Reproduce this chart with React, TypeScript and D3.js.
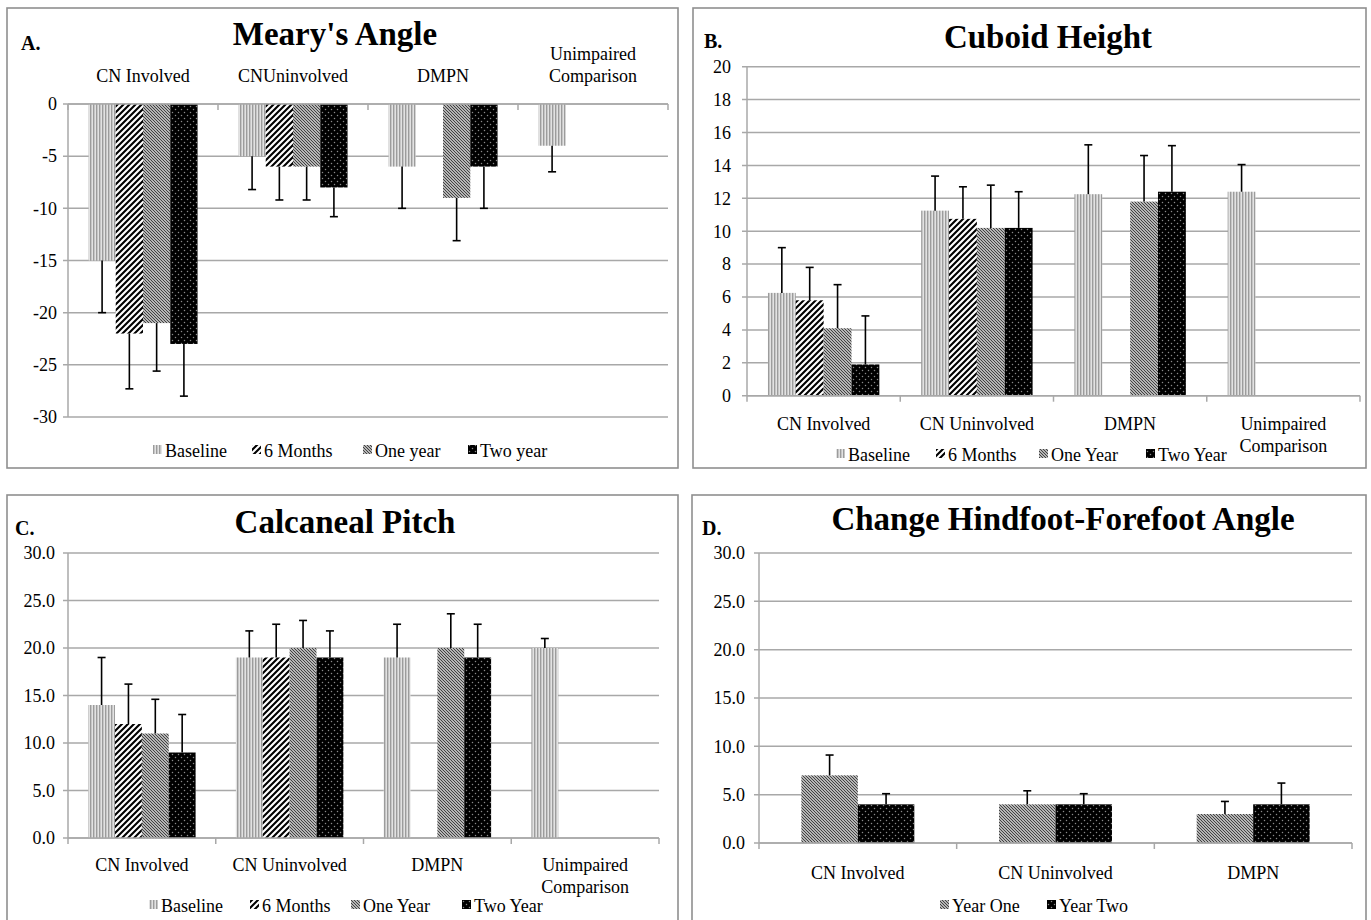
import React, { useEffect } from "react";
import * as d3 from "d3";

const FONT = '"Liberation Serif","Times New Roman",Times,serif';

// ---------- DATA ----------
const catsABC = ["CN Involved", "CN Uninvolved", "DMPN", "Unimpaired\nComparison"];
const catsA = ["CN Involved", "CNUninvolved", "DMPN", "Unimpaired\nComparison"];
const catsD = ["CN Involved", "CN Uninvolved", "DMPN"];

const seriesNamesA = ["Baseline", "6 Months", "One year", "Two year"];
const seriesNamesBC = ["Baseline", "6 Months", "One Year", "Two Year"];
const seriesNamesD = ["Year One", "Year Two"];

// A. Meary's Angle (mean, SD)
const meary_baseline = [-15, -5, -6, -4];
const meary_baseline_sd = [5, 3.2, 4, 2.5];
const meary_6m = [-22, -6, null, null];
const meary_6m_sd = [5.3, 3.2, null, null];
const meary_1y = [-21, -6, -9, null];
const meary_1y_sd = [4.6, 3.2, 4.1, null];
const meary_2y = [-23, -8, -6, null];
const meary_2y_sd = [5, 2.8, 4, null];
const mearyTicks = [0, -5, -10, -15, -20, -25, -30];

// B. Cuboid Height
const cuboid_baseline = [6.25, 11.25, 12.25, 12.4];
const cuboid_baseline_sd = [2.75, 2.1, 3.0, 1.65];
const cuboid_6m = [5.8, 10.75, null, null];
const cuboid_6m_sd = [2.0, 1.95, null, null];
const cuboid_1y = [4.1, 10.2, 11.8, null];
const cuboid_1y_sd = [2.65, 2.6, 2.8, null];
const cuboid_2y = [1.9, 10.2, 12.4, null];
const cuboid_2y_sd = [2.95, 2.2, 2.8, null];
const cuboidTicks = [0, 2, 4, 6, 8, 10, 12, 14, 16, 18, 20];

// C. Calcaneal Pitch
const pitch_baseline = [14, 19, 19, 20];
const pitch_baseline_sd = [5, 2.8, 3.5, 1];
const pitch_6m = [12, 19, null, null];
const pitch_6m_sd = [4.2, 3.5, null, null];
const pitch_1y = [11, 20, 20, null];
const pitch_1y_sd = [3.6, 2.9, 3.6, null];
const pitch_2y = [9, 19, 19, null];
const pitch_2y_sd = [4, 2.8, 3.5, null];
const pitchTicks = [0, 5, 10, 15, 20, 25, 30];

// D. Change Hindfoot-Forefoot Angle
const hf_year1 = [7, 4, 3];
const hf_year1_sd = [2.1, 1.4, 1.3];
const hf_year2 = [4, 4, 4];
const hf_year2_sd = [1.1, 1.1, 2.2];
const hfTicks = [0, 5, 10, 15, 20, 25, 30];

const patternIds4 = ["pBase", "p6m", "p1y", "p2y"];
const patternIdsD = ["p1y", "p2y"];

type Series = { name: string; values: (number | null)[]; sd: (number | null)[]; pat: string };

type Cfg = {
  border: [number, number, number, number];
  letter: string; letterX: number; letterY: number;
  title: string; titleX: number; titleY: number;
  left: number; right: number; yMinPx: number; yMaxPx: number;
  domain: [number, number];
  ticks: number[]; fmt: (v: number) => string; tickX: number;
  cats: string[]; catY: number; labelsAbove: boolean;
  series: Series[];
  legendX: number[]; legendY: number;
};

function Panel({ c }: { c: Cfg }) {
  const y = d3.scaleLinear().domain(c.domain).range([c.yMinPx, c.yMaxPx]);
  const x = d3.scaleBand<string>().domain(c.cats).range([c.left, c.right]).padding(0);
  const W = x.bandwidth();
  const n = c.series.length;
  const b = W / (n + 1.5);
  const xs = d3
    .scaleBand<string>()
    .domain(c.series.map((s) => s.name))
    .range([b * 0.75, W - b * 0.75])
    .padding(0);
  const zero = y(0);
  const bounds = c.cats.map((k) => x(k) as number).concat([c.right]);
  const grid = "#a8a8a8";
  return (
    <g>
      <rect x={c.border[0]} y={c.border[1]} width={c.border[2]} height={c.border[3]} fill="#fff" stroke="#8f8f8f" strokeWidth={1.6} />
      <text x={c.letterX} y={c.letterY} fontFamily={FONT} fontWeight="bold" fontSize={20}>{c.letter}</text>
      <text x={c.titleX} y={c.titleY} fontFamily={FONT} fontWeight="bold" fontSize={33} textAnchor="middle">{c.title}</text>
      {c.ticks.map((t) => (
        <g key={t}>
          <line x1={c.left - 5} x2={c.right} y1={y(t)} y2={y(t)} stroke={grid} strokeWidth={1.5} />
          <text x={c.tickX} y={y(t)} dy="0.35em" textAnchor="end" fontFamily={FONT} fontSize={18}>{c.fmt(t)}</text>
        </g>
      ))}
      <line x1={c.left} x2={c.left} y1={y(c.domain[0])} y2={y(c.domain[1])} stroke={grid} strokeWidth={1.5} />
      {c.series.map((s, si) =>
        s.values.map((v, ci) => {
          if (v == null) return null;
          const cat = c.cats[ci];
          const bx = (x(cat) as number) + (xs(s.name) as number);
          const yv = y(v);
          return (
            <rect key={`b${si}-${ci}`} x={bx} width={b} y={Math.min(yv, zero)} height={Math.abs(yv - zero)} fill={`url(#${s.pat})`} />
          );
        })
      )}
      {c.series.map((s, si) =>
        s.values.map((v, ci) => {
          const e = s.sd[ci];
          if (v == null || e == null) return null;
          const cat = c.cats[ci];
          const cx = (x(cat) as number) + (xs(s.name) as number) + b / 2;
          const yv = y(v);
          const ye = y(v + Math.sign(v) * e);
          return (
            <g key={`e${si}-${ci}`} stroke="#000" strokeWidth={1.6}>
              <line x1={cx} x2={cx} y1={yv} y2={ye} />
              <line x1={cx - 4} x2={cx + 4} y1={ye} y2={ye} />
            </g>
          );
        })
      )}
      <line x1={c.left} x2={c.right} y1={zero} y2={zero} stroke={grid} strokeWidth={1.5} />
      {bounds.map((bx, i) => (
        <line key={`t${i}`} x1={bx} x2={bx} y1={zero} y2={zero + 6} stroke={grid} strokeWidth={1.5} />
      ))}
      {c.cats.map((k) => {
        const lines = k.split("\n");
        const cx = (x(k) as number) + W / 2;
        return lines.map((ln, li) => {
          const ly = c.labelsAbove ? c.catY - (lines.length - 1 - li) * 22 : c.catY + li * 22;
          return (
            <text key={`${k}-${li}`} x={cx} y={ly} textAnchor="middle" fontFamily={FONT} fontSize={18}>{ln}</text>
          );
        });
      })}
      {c.series.map((s, si) => (
        <g key={`l${si}`}>
          <rect x={c.legendX[si] - 12} y={c.legendY - 12} width={9} height={9} fill={`url(#${s.pat})`} />
          <text x={c.legendX[si]} y={c.legendY} fontFamily={FONT} fontSize={18}>{s.name}</text>
        </g>
      ))}
    </g>
  );
}

function mk(names: string[], vals: (number | null)[][], sds: (number | null)[][], pats: string[]): Series[] {
  return names.map((nm, i) => ({ name: nm, values: vals[i], sd: sds[i], pat: pats[i] }));
}

const intFmt = (v: number) => String(v);
const decFmt = (v: number) => v.toFixed(1);

export default function App() {
  useEffect(() => {
    document.body.style.margin = "0";
    document.body.style.overflow = "hidden";
  }, []);

  const A: Cfg = {
    border: [7, 8, 671, 460],
    letter: "A.", letterX: 21, letterY: 50,
    title: "Meary's Angle", titleX: 335, titleY: 45,
    left: 68, right: 668, yMinPx: 417, yMaxPx: 104, domain: [-30, 0],
    ticks: mearyTicks, fmt: intFmt, tickX: 57,
    cats: catsA, catY: 82, labelsAbove: true,
    series: mk(seriesNamesA, [meary_baseline, meary_6m, meary_1y, meary_2y], [meary_baseline_sd, meary_6m_sd, meary_1y_sd, meary_2y_sd], patternIds4),
    legendX: [165, 264, 375, 480], legendY: 457,
  };
  const B: Cfg = {
    border: [693, 8, 673, 460],
    letter: "B.", letterX: 704, letterY: 48,
    title: "Cuboid Height", titleX: 1048, titleY: 48,
    left: 747, right: 1360, yMinPx: 395.7, yMaxPx: 66.7, domain: [0, 20],
    ticks: cuboidTicks, fmt: intFmt, tickX: 731,
    cats: catsABC, catY: 430, labelsAbove: false,
    series: mk(seriesNamesBC, [cuboid_baseline, cuboid_6m, cuboid_1y, cuboid_2y], [cuboid_baseline_sd, cuboid_6m_sd, cuboid_1y_sd, cuboid_2y_sd], patternIds4),
    legendX: [848, 948, 1051, 1158], legendY: 461,
  };
  const C: Cfg = {
    border: [7, 495, 671, 440],
    letter: "C.", letterX: 15, letterY: 535,
    title: "Calcaneal Pitch", titleX: 345, titleY: 533,
    left: 68, right: 659, yMinPx: 838, yMaxPx: 553, domain: [0, 30],
    ticks: pitchTicks, fmt: decFmt, tickX: 55,
    cats: catsABC, catY: 871, labelsAbove: false,
    series: mk(seriesNamesBC, [pitch_baseline, pitch_6m, pitch_1y, pitch_2y], [pitch_baseline_sd, pitch_6m_sd, pitch_1y_sd, pitch_2y_sd], patternIds4),
    legendX: [161, 262, 363, 474], legendY: 912,
  };
  const D: Cfg = {
    border: [692, 495, 674, 440],
    letter: "D.", letterX: 702, letterY: 535,
    title: "Change Hindfoot-Forefoot Angle", titleX: 1063, titleY: 530,
    left: 759, right: 1352, yMinPx: 843, yMaxPx: 553, domain: [0, 30],
    ticks: hfTicks, fmt: decFmt, tickX: 745,
    cats: catsD, catY: 879, labelsAbove: false,
    series: mk(seriesNamesD, [hf_year1, hf_year2], [hf_year1_sd, hf_year2_sd], patternIdsD),
    legendX: [952, 1059], legendY: 912,
  };

  return (
    <svg width={1371} height={920} style={{ position: "absolute", left: 0, top: 0, display: "block", background: "#fff" }}>
      <defs>
        <pattern id="pBase" width="3" height="4" patternUnits="userSpaceOnUse">
          <rect width="3" height="4" fill="#e2e2e2" />
          <rect width="1.4" height="4" fill="#9c9c9c" />
        </pattern>
        <pattern id="p6m" width="6" height="6" patternUnits="userSpaceOnUse">
          <rect width="6" height="6" fill="#fff" />
          <path d="M-1.5,1.5 L1.5,-1.5 M0,6 L6,0 M4.5,7.5 L7.5,4.5" stroke="#000" strokeWidth="2.1" />
        </pattern>
        <pattern id="p1y" width="3" height="3" patternUnits="userSpaceOnUse">
          <rect width="3" height="3" fill="#ececec" />
          <path d="M-0.75,-0.75 L3.75,3.75 M-0.75,2.25 L0.75,3.75 M2.25,-0.75 L3.75,0.75" stroke="#3c3c3c" strokeWidth="1.2" />
        </pattern>
        <pattern id="p2y" width="6" height="6" patternUnits="userSpaceOnUse">
          <rect width="6" height="6" fill="#000" />
          <circle cx="1.5" cy="1.5" r="0.75" fill="#8a8a8a" />
          <circle cx="4.5" cy="4.5" r="0.75" fill="#8a8a8a" />
        </pattern>
      </defs>
      <rect width={1371} height={920} fill="#fff" />
      <Panel c={A} />
      <Panel c={B} />
      <Panel c={C} />
      <Panel c={D} />
    </svg>
  );
}
